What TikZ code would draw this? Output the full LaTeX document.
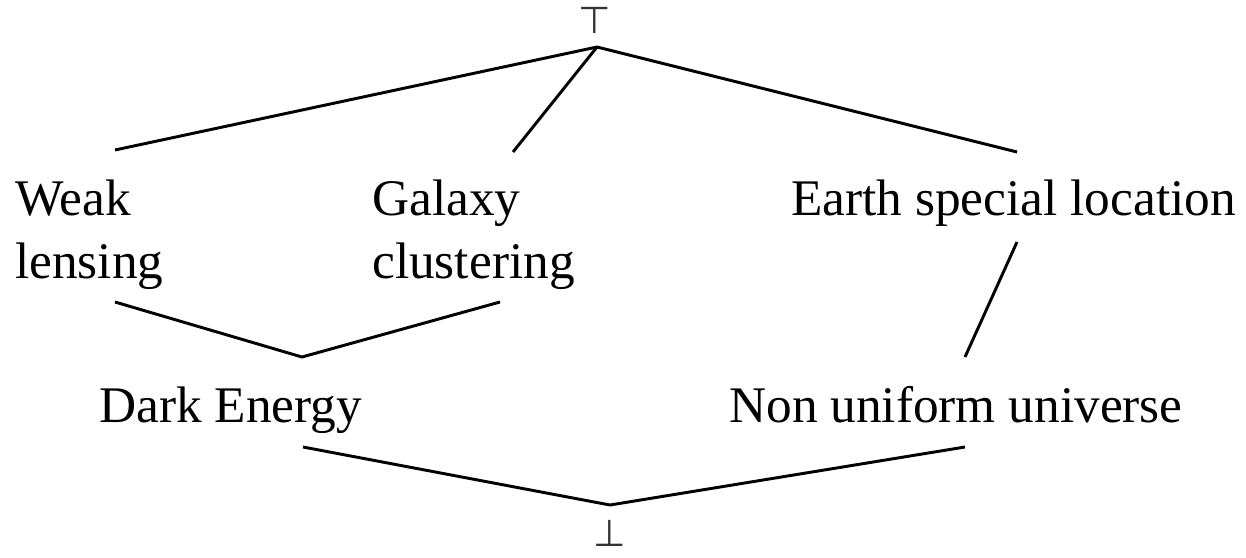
\documentclass[tikz,border=0pt]{standalone}
\usepackage{fontspec}
\setmainfont{Liberation Serif}
\newfontfamily\symfont{DejaVu Sans}
\begin{document}
\begin{tikzpicture}[x=0.75pt,y=-0.75pt,
  lbl/.style={font=\fontsize{38.5}{47.25}\selectfont, inner sep=0pt, align=left},
  sym/.style={font=\symfont\fontsize{28}{28}\selectfont\mdseries, inner sep=0pt, text=black!80, anchor=base},
  edge/.style={line width=2.2pt, line join=round}]
\useasboundingbox (0,0) rectangle (1246,557);
% texts
\node[sym] (top) at (595,33) {⊤};
\node[sym] (bot) at (610,546) {⊥};
\node[lbl, anchor=base west] (wl) at (15,278) {Weak\\lensing};
\node[lbl, anchor=base west] (gc) at (372,278) {Galaxy\\clustering};
\node[lbl, anchor=base west] (es) at (791,215) {Earth special location};
\node[lbl, anchor=base west] (de) at (99,422) {Dark Energy};
\node[lbl, anchor=base west] (nu) at (729,422) {Non uniform universe};
% junctions
\coordinate (t0) at (597,47);
\coordinate (wlT) at (115,150);
\coordinate (gcT) at (513,152);
\coordinate (esT) at (1017,152);
\coordinate (wlB) at (115,302);
\coordinate (gcB) at (500,302);
\coordinate (esB) at (1017,242);
\coordinate (deT) at (302,357);
\coordinate (nuT) at (965,357);
\coordinate (deB) at (303,447);
\coordinate (nuB) at (965,447);
\coordinate (b0) at (610,505);
% edges
\draw[edge] (wlT) -- (t0) -- (esT);
\draw[edge] (gcT) -- (t0);
\draw[edge] (wlB) -- (deT) -- (gcB);
\draw[edge] (esB) -- (nuT);
\draw[edge] (deB) -- (b0) -- (nuB);
\end{tikzpicture}
\end{document}
